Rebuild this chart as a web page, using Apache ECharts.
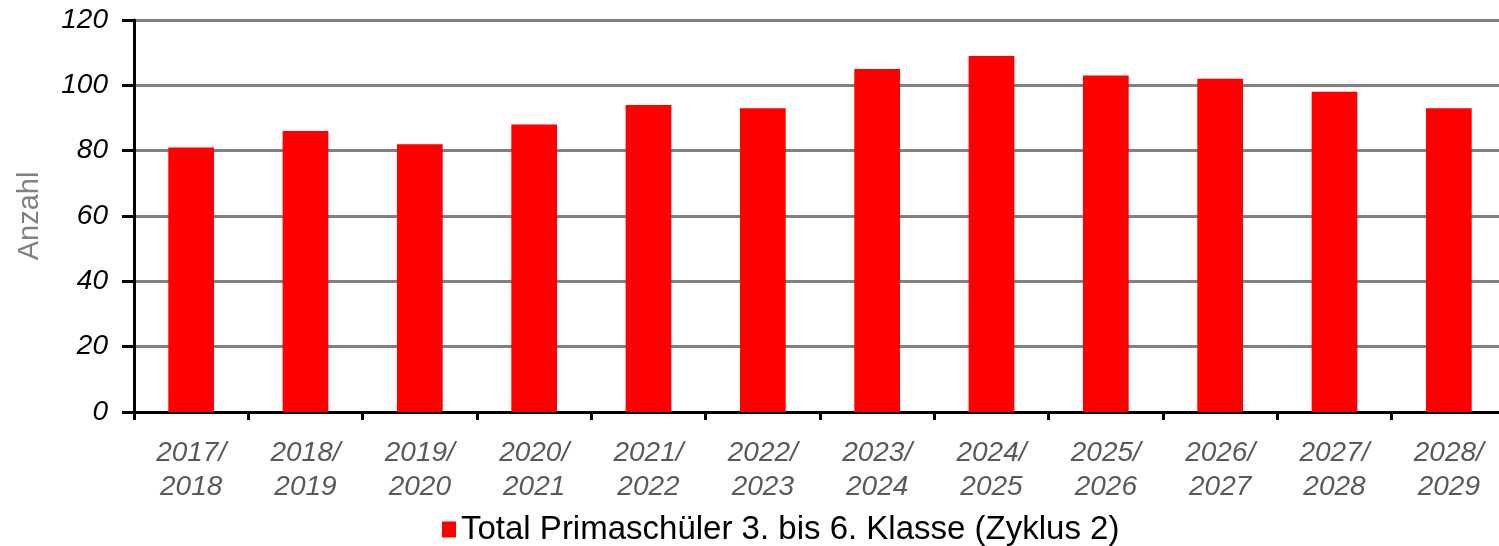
<!DOCTYPE html>
<html><head><meta charset="utf-8">
<script src="https://cdn.jsdelivr.net/npm/echarts@6/dist/echarts.min.js"></script>
<style>html,body{margin:0;padding:0;background:#fff;overflow:hidden}#c{width:1507px;height:546px}</style>
</head><body><div id="c"></div>
<script>
const categories = ['2017/\n2018','2018/\n2019','2019/\n2020','2020/\n2021','2021/\n2022','2022/\n2023','2023/\n2024','2024/\n2025','2025/\n2026','2026/\n2027','2027/\n2028','2028/\n2029'];
const values = [81, 86, 82, 88, 94, 93, 105, 109, 103, 102, 98, 93];
const seriesName = 'Total Primaschüler 3. bis 6. Klasse (Zyklus 2)';
const yAxisName = 'Anzahl';

const chart = echarts.init(document.getElementById('c'), null, {renderer: 'canvas'});
chart.setOption({
  animation: false,
  backgroundColor: '#fff',
  textStyle: {fontFamily: 'Liberation Sans, Arial, sans-serif'},
  grid: {left: 134, right: 1, top: 20, bottom: 134, containLabel: false},
  legend: {
    data: [seriesName],
    left: 437, top: 508,
    itemWidth: 14, itemHeight: 16, itemGap: 6,
    icon: 'rect',
    textStyle: {fontSize: 33, color: '#000', fontFamily: 'Liberation Sans, Arial'}
  },
  xAxis: {
    type: 'category',
    data: categories,
    axisLine: {lineStyle: {color: '#000', width: 3}},
    axisTick: {show: true, length: 8, lineStyle: {color: '#000', width: 3}, alignWithLabel: false},
    axisLabel: {
      color: '#595959', fontSize: 28, fontStyle: 'italic', lineHeight: 34, margin: 24,
      fontFamily: 'Liberation Sans, Arial'
    }
  },
  yAxis: {
    type: 'value',
    min: 0, max: 120, interval: 20,
    name: yAxisName,
    nameLocation: 'middle',
    nameGap: 90,
    nameTextStyle: {color: '#808080', fontSize: 29, fontFamily: 'Liberation Sans, Arial'},
    axisLine: {show: true, lineStyle: {color: '#000', width: 3}},
    axisTick: {show: true, length: 12, lineStyle: {color: '#000', width: 3}},
    axisLabel: {color: '#000', fontSize: 28, fontStyle: 'italic', margin: 26, fontFamily: 'Liberation Sans, Arial'},
    splitLine: {show: true, lineStyle: {color: '#808080', width: 3}}
  },
  series: [{
    name: seriesName,
    type: 'bar',
    data: values,
    barWidth: '40%',
    itemStyle: {color: '#ff0000'}
  }]
});
</script></body></html>
